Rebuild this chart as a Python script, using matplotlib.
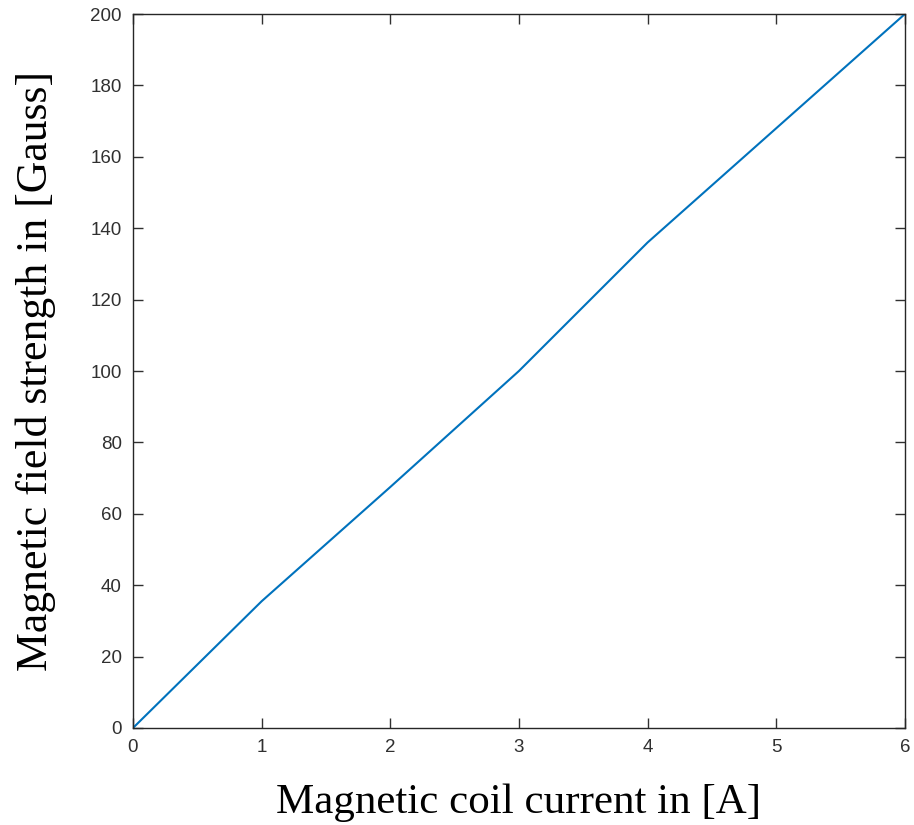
import matplotlib
matplotlib.use("Agg")
import matplotlib.pyplot as plt

# coil current [A] vs field strength [Gauss]
current = [0, 1, 2, 3, 4, 5, 6]
field = [0, 35.5, 67.5, 100, 136, 168, 200]

x_ticks = [0, 1, 2, 3, 4, 5, 6]
y_ticks = [0, 20, 40, 60, 80, 100, 120, 140, 160, 180, 200]

fig = plt.figure(figsize=(9.14, 8.25), dpi=100)
ax = fig.add_axes([0.1455, 0.1176, 0.8445, 0.8654])

ax.plot(current, field, color='#0072BD', linewidth=1.5)

ax.set_xlim(0, 6)
ax.set_ylim(0, 200)
ax.set_xticks(x_ticks)
ax.set_yticks(y_ticks)

for s in ax.spines.values():
    s.set_color('#262626')
    s.set_linewidth(1.0)
ax.tick_params(direction='in', top=True, right=True, length=7, width=1.0,
               colors='#303030', labelsize=13.5, pad=8)
for lab in ax.get_xticklabels() + ax.get_yticklabels():
    lab.set_family('Liberation Sans')

ax.set_xlabel('Magnetic coil current in [A]', family='Liberation Serif',
              fontsize=31, color='black', labelpad=20)
ax.set_ylabel('Magnetic field strength in [Gauss]', family='Liberation Serif',
              fontsize=31.5, color='black', labelpad=25)

fig.savefig('out.png', dpi=100)
